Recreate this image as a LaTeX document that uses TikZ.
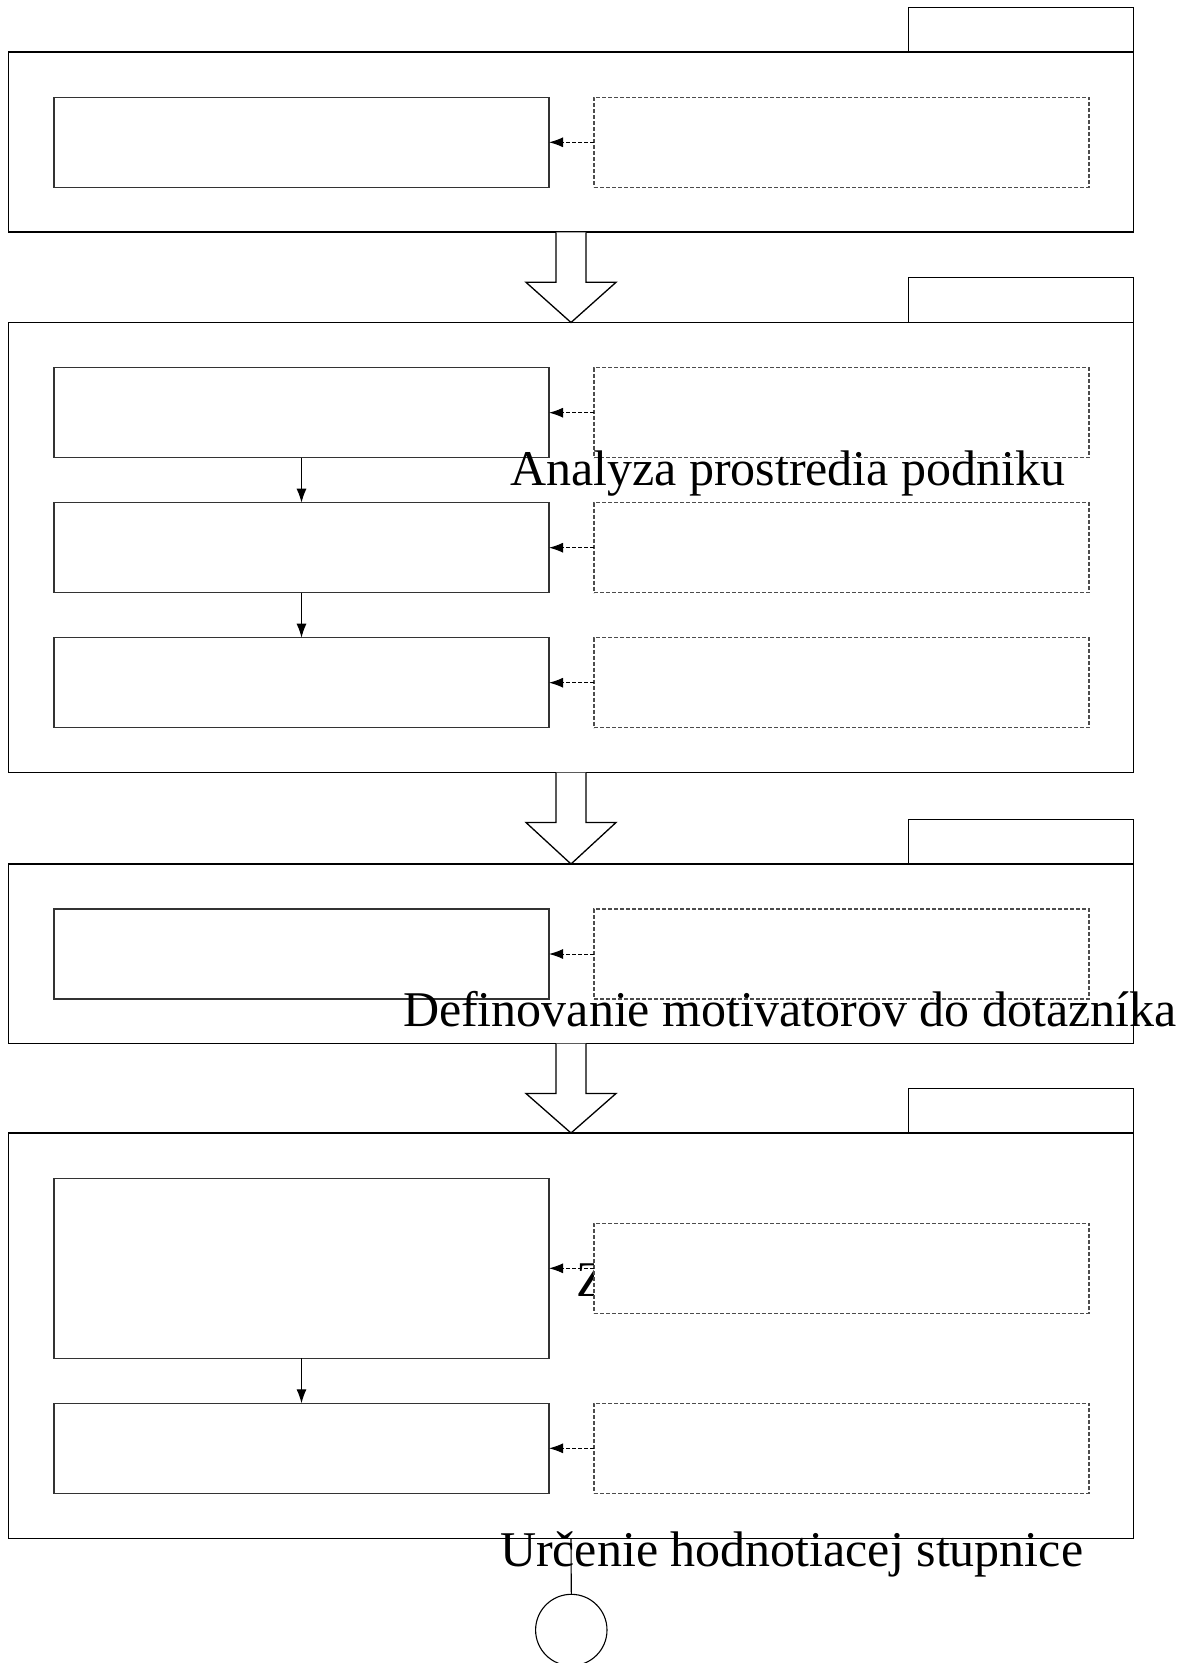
\documentclass[tikz,border=0pt]{standalone}
\usepackage{fontspec}
\setmainfont{Liberation Serif}
\usetikzlibrary{arrows.meta,calc}
\begin{document}
\begin{tikzpicture}[x=0.5pt,y=-0.5pt,
  phase/.style={draw=black,line width=0.85pt,inner sep=0pt,outer sep=0pt,
    minimum width=562.5pt,anchor=north west},
  phasetab/.style={draw=black,line width=0.55pt,inner sep=0pt,outer sep=0pt,
    minimum width=112.5pt,minimum height=22.4pt,anchor=south east},
  task/.style={draw=black!80,fill=white,line width=0.6pt,inner sep=0pt,outer sep=0pt,
    minimum width=247.5pt,minimum height=45pt,anchor=north west},
  source/.style={task,draw=black!70,dash pattern=on 2pt off 1pt},
  feed/.style={draw=black,-{Latex[length=7pt,width=5pt]},dash pattern=on 2pt off 1pt,line width=0.5pt},
  flow/.style={draw=black,-{Latex[length=7pt,width=5pt]},line width=0.55pt},
  bigarrow/.style={draw=black,fill=white,line width=0.65pt,line join=miter},
  title/.style={anchor=base west,inner sep=0pt,outer sep=0pt,font=\fontsize{25}{30}\selectfont}]
\useasboundingbox (0,0) rectangle (1183,1663);

% phase frames with their tabs
\node[phase,minimum height=90pt]    (f1) at (8.5,52.3) {};
\node[phase,minimum height=225pt]   (f2) at (8.5,322.5) {};
\node[phase,minimum height=89.75pt] (f3) at (8.5,864) {};
\node[phase,minimum height=202.75pt](f4) at (8.5,1133) {};
\foreach \f in {f1,f2,f3,f4}
  \node[phasetab] (\f tab) at (\f.north east) {};

% block arrows between phases
\foreach \a/\b in {f1/f2,f2/f3,f3/f4}
  \draw[bigarrow] ($(\a.south)+(-15,0)$) -- ++(0,50) -- ++(-30,0) -- (\b.north)
    -- ($(\a.south)+(45,50)$) -- ++(-30,0) -- ($(\a.south)+(15,0)$);

% partly hidden label
\node[title] (tz) at (576,1296) {Z};

% phase 1
\node[task]   (a1) at (54,97.3) {};
\node[source] (s1) at (594,97.3) {};
\draw[feed] (s1.west) -- (a1.east);

% phase 2
\node[task]   (b1) at (54,367.7) {};
\node[source] (r1) at (594,367.7) {};
\node[task]   (b2) at (54,502.7) {};
\node[source] (r2) at (594,502.7) {};
\node[task]   (b3) at (54,637.7) {};
\node[source] (r3) at (594,637.7) {};
\draw[feed] (r1.west) -- (b1.east);
\draw[feed] (r2.west) -- (b2.east);
\draw[feed] (r3.west) -- (b3.east);
\draw[flow] (b1.south) -- (b2.north);
\draw[flow] (b2.south) -- (b3.north);

% phase 3
\node[task]   (c1) at (54,909) {};
\node[source] (q1) at (594,909) {};
\draw[feed] (q1.west) -- (c1.east);

% phase 4
\node[task,minimum height=90pt] (d1) at (54,1178.3) {};
\node[source] (p1) at (594,1223.3) {};
\node[task]   (d2) at (54,1403.3) {};
\node[source] (p2) at (594,1403.3) {};
\draw[feed] (p1.west) -- (d1.east |- p1.west);
\draw[feed] (p2.west) -- (d2.east);
\draw[flow] (d1.south) -- (d2.north);

% labels
\node[title] (t2) at (510,486) {Analyza prostredia podniku};
\node[title] (t3) at (403,1026) {Definovanie motivatorov do dotazníka};
\node[title] (t4) at (500,1566) {Určenie hodnotiacej stupnice};

% end of the process
\node[draw=black,line width=0.55pt,circle,minimum size=35.7pt,inner sep=0pt] (end) at (571.3,1630) {};
\draw[line width=0.55pt] (f4.south) -- (end.north);
\end{tikzpicture}
\end{document}
